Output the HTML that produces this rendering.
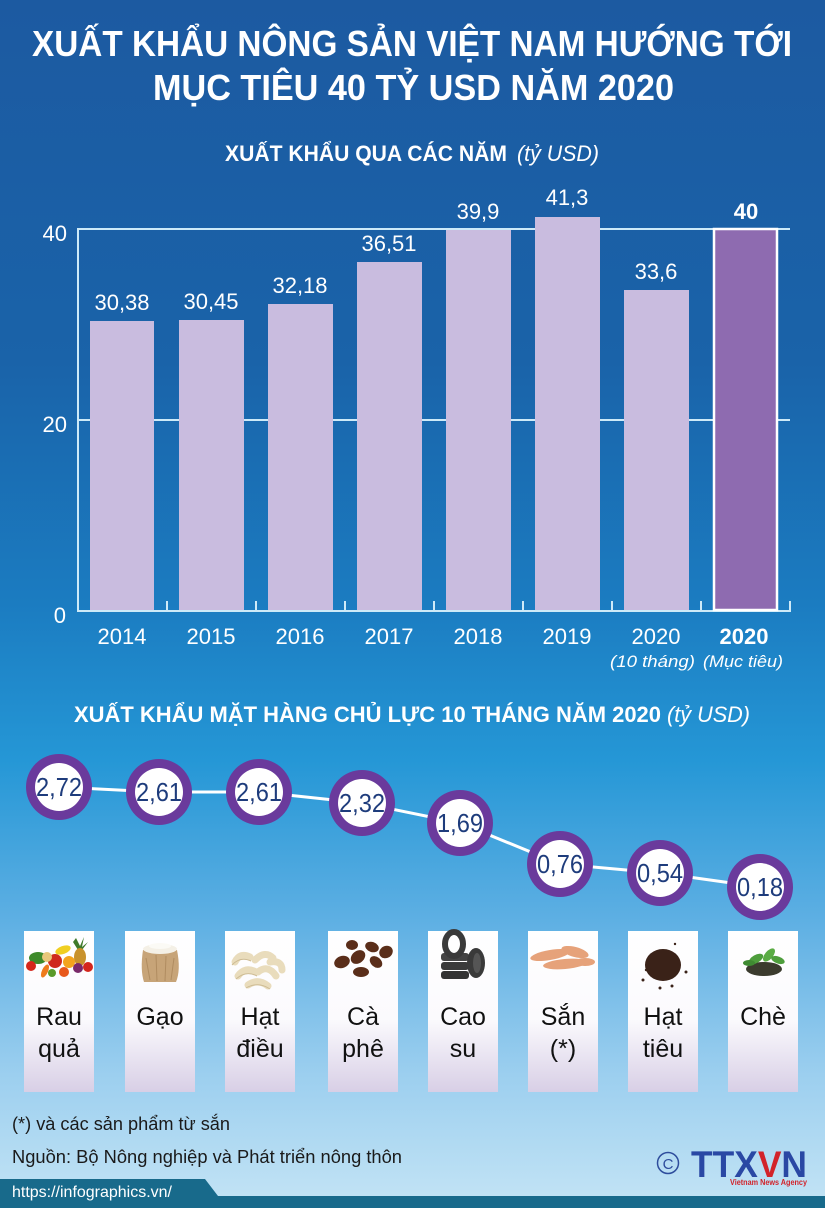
<!DOCTYPE html>
<html><head><meta charset="utf-8"><style>
html,body{margin:0;padding:0;width:825px;height:1208px;overflow:hidden}
svg{display:block}
text{font-family:"Liberation Sans","DejaVu Sans",sans-serif}
</style></head><body>
<svg width="825" height="1208" viewBox="0 0 825 1208" xmlns="http://www.w3.org/2000/svg">
<defs>
<linearGradient id="bg" x1="0" y1="0" x2="0" y2="1">
<stop offset="0" stop-color="#1c5aa1"/>
<stop offset="0.3" stop-color="#1a63a9"/>
<stop offset="0.5" stop-color="#1b7cc1"/>
<stop offset="0.63" stop-color="#2597d6"/>
<stop offset="0.76" stop-color="#5dafe3"/>
<stop offset="0.89" stop-color="#9ccfef"/>
<stop offset="1" stop-color="#c4e4f5"/>
</linearGradient>
<linearGradient id="card" x1="0" y1="0" x2="0" y2="1">
<stop offset="0" stop-color="#ffffff"/>
<stop offset="0.55" stop-color="#fbfafd"/>
<stop offset="1" stop-color="#d8cfe6"/>
</linearGradient>
</defs>
<rect x="0" y="0" width="825" height="1208" fill="url(#bg)"/>

<!-- Titles -->
<text x="32" y="56" font-size="36" font-weight="bold" fill="#fff" textLength="760" lengthAdjust="spacingAndGlyphs">XUẤT KHẨU NÔNG SẢN VIỆT NAM HƯỚNG TỚI</text>
<text x="153" y="100" font-size="36" font-weight="bold" fill="#fff" textLength="521" lengthAdjust="spacingAndGlyphs">MỤC TIÊU 40 TỶ USD NĂM 2020</text>
<text x="225" y="161" font-size="22" font-weight="bold" fill="#fff" textLength="282" lengthAdjust="spacingAndGlyphs">XUẤT KHẨU QUA CÁC NĂM</text>
<text x="517" y="161" font-size="22" font-style="italic" fill="#fff" textLength="82" lengthAdjust="spacingAndGlyphs">(tỷ USD)</text>

<!-- Chart gridlines -->
<g stroke="#cdeaf8" stroke-width="2" fill="none">
<line x1="78" y1="229" x2="790" y2="229"/>
<line x1="78" y1="420" x2="790" y2="420"/>
<line x1="78" y1="228" x2="78" y2="612"/>
<line x1="77" y1="611" x2="791" y2="611"/>
<line x1="167" y1="601" x2="167" y2="611"/>
<line x1="256" y1="601" x2="256" y2="611"/>
<line x1="345" y1="601" x2="345" y2="611"/>
<line x1="434" y1="601" x2="434" y2="611"/>
<line x1="523" y1="601" x2="523" y2="611"/>
<line x1="612" y1="601" x2="612" y2="611"/>
<line x1="701" y1="601" x2="701" y2="611"/>
<line x1="790" y1="601" x2="790" y2="611"/>
</g>
<!-- Bars -->
<g fill="#c9bcdf">
<rect x="90" y="321" width="64" height="289"/>
<rect x="179" y="320" width="65" height="290"/>
<rect x="268" y="304" width="65" height="306"/>
<rect x="357" y="262" width="65" height="348"/>
<rect x="446" y="230" width="65" height="380"/>
<rect x="535" y="217" width="65" height="393"/>
<rect x="624" y="290" width="65" height="320"/>
</g>
<rect x="714" y="229" width="63" height="381" fill="#8e6bb0" stroke="#fff" stroke-width="2.5"/>

<!-- Y labels -->
<g font-size="22" fill="#fff" text-anchor="end">
<text x="67" y="241">40</text>
<text x="67" y="432">20</text>
<text x="66" y="623">0</text>
</g>
<!-- Value labels -->
<g font-size="22" fill="#fff" text-anchor="middle">
<text x="122" y="310">30,38</text>
<text x="211" y="309">30,45</text>
<text x="300" y="293">32,18</text>
<text x="389" y="251">36,51</text>
<text x="478" y="219">39,9</text>
<text x="567" y="205">41,3</text>
<text x="656" y="279">33,6</text>
<text x="746" y="219" font-weight="bold">40</text>
</g>
<!-- Year labels -->
<g font-size="22" fill="#fff" text-anchor="middle">
<text x="122" y="644">2014</text>
<text x="211" y="644">2015</text>
<text x="300" y="644">2016</text>
<text x="389" y="644">2017</text>
<text x="478" y="644">2018</text>
<text x="567" y="644">2019</text>
<text x="656" y="644">2020</text>
<text x="744" y="644" font-weight="bold">2020</text>
</g>
<text x="610" y="667" font-size="17" font-style="italic" fill="#fff" textLength="85" lengthAdjust="spacingAndGlyphs">(10 tháng)</text>
<text x="703" y="667" font-size="17" font-style="italic" fill="#fff" textLength="80" lengthAdjust="spacingAndGlyphs">(Mục tiêu)</text>

<!-- Section 2 title -->
<text x="74" y="722" font-size="22" font-weight="bold" fill="#fff" textLength="587" lengthAdjust="spacingAndGlyphs">XUẤT KHẨU MẶT HÀNG CHỦ LỰC 10 THÁNG NĂM 2020</text>
<text x="667" y="722" font-size="22" font-style="italic" fill="#fff" textLength="83" lengthAdjust="spacingAndGlyphs">(tỷ USD)</text>

<!-- Connecting line -->
<polyline points="59,787 159,792 259,792 362,803 460,823 560,864 660,873 760,887" fill="none" stroke="#fff" stroke-width="3"/>

<!-- Circles -->
<g fill="#6a3a9c">
<circle cx="59" cy="787" r="33"/>
<circle cx="159" cy="792" r="33"/>
<circle cx="259" cy="792" r="33"/>
<circle cx="362" cy="803" r="33"/>
<circle cx="460" cy="823" r="33"/>
<circle cx="560" cy="864" r="33"/>
<circle cx="660" cy="873" r="33"/>
<circle cx="760" cy="887" r="33"/>
</g>
<g fill="#fff">
<circle cx="59" cy="787" r="24"/>
<circle cx="159" cy="792" r="24"/>
<circle cx="259" cy="792" r="24"/>
<circle cx="362" cy="803" r="24"/>
<circle cx="460" cy="823" r="24"/>
<circle cx="560" cy="864" r="24"/>
<circle cx="660" cy="873" r="24"/>
<circle cx="760" cy="887" r="24"/>
</g>
<g font-size="26" fill="#1e3c7c">
<text x="36" y="796" textLength="46" lengthAdjust="spacingAndGlyphs">2,72</text>
<text x="136" y="801" textLength="46" lengthAdjust="spacingAndGlyphs">2,61</text>
<text x="236" y="801" textLength="46" lengthAdjust="spacingAndGlyphs">2,61</text>
<text x="339" y="812" textLength="46" lengthAdjust="spacingAndGlyphs">2,32</text>
<text x="437" y="832" textLength="46" lengthAdjust="spacingAndGlyphs">1,69</text>
<text x="537" y="873" textLength="46" lengthAdjust="spacingAndGlyphs">0,76</text>
<text x="637" y="882" textLength="46" lengthAdjust="spacingAndGlyphs">0,54</text>
<text x="737" y="896" textLength="46" lengthAdjust="spacingAndGlyphs">0,18</text>
</g>

<!-- Cards -->
<g fill="url(#card)">
<rect x="24" y="931" width="70" height="161"/>
<rect x="125" y="931" width="70" height="161"/>
<rect x="225" y="931" width="70" height="161"/>
<rect x="328" y="931" width="70" height="161"/>
<rect x="428" y="931" width="70" height="161"/>
<rect x="528" y="931" width="70" height="161"/>
<rect x="628" y="931" width="70" height="161"/>
<rect x="728" y="931" width="70" height="161"/>
</g>

<!-- Icons -->
<g>
<polygon points="76,938 80,946 84,937 82,947 88,942 82,950 78,950 73,942" fill="#3e7a2a"/>
<ellipse cx="80" cy="957" rx="6" ry="9" fill="#c8922c"/>
<ellipse cx="38" cy="958" rx="9" ry="6" fill="#3d8a2a"/>
<ellipse cx="63" cy="950" rx="8" ry="4" fill="#f0cf22" transform="rotate(-20 63 950)"/>
<circle cx="55" cy="961" r="7" fill="#cf2a1d"/>
<circle cx="69" cy="962" r="6" fill="#f3a41e"/>
<circle cx="47" cy="957" r="5" fill="#e7c77a"/>
<circle cx="31" cy="966" r="5" fill="#d4261c"/>
<circle cx="88" cy="967" r="5" fill="#d4261c"/>
<ellipse cx="45" cy="971" rx="3" ry="7" fill="#ee7a1c" transform="rotate(25 45 971)"/>
<circle cx="78" cy="968" r="5" fill="#7a2a6a"/>
<circle cx="64" cy="972" r="5" fill="#e8581c"/>
<circle cx="52" cy="973" r="4" fill="#5a9a2a"/>
</g>
<g>
<path d="M143,950 Q140,970 144,982 L176,982 Q181,970 177,950 Z" fill="#c7a478"/>
<path d="M146,958 L150,980 M156,955 L157,981 M166,956 L165,981 M174,958 L171,980" stroke="#b08c60" stroke-width="1"/>
<ellipse cx="160" cy="949" rx="17" ry="5" fill="#f4f0e6"/>
<ellipse cx="160" cy="946" rx="11" ry="3" fill="#fbfaf5"/>
</g>
<g fill="none" stroke="#e9dcbc" stroke-width="7" stroke-linecap="round">
<path d="M235,962 Q240,952 250,957"/>
<path d="M255,960 Q265,950 273,958"/>
<path d="M270,962 Q282,960 282,970"/>
<path d="M238,976 Q245,966 256,972"/>
<path d="M258,972 Q268,964 276,976"/>
<path d="M248,985 Q258,978 268,986"/>
</g>
<g fill="none" stroke="#cdbb93" stroke-width="1">
<path d="M232,965 Q240,956 251,961"/>
<path d="M236,979 Q246,970 257,976"/>
<path d="M246,988 Q258,981 270,989"/>
</g>
<g fill="#5a2e1a">
<ellipse cx="342" cy="962" rx="8" ry="6" transform="rotate(-20 342 962)"/>
<ellipse cx="358" cy="957" rx="8" ry="6" transform="rotate(-40 358 957)"/>
<ellipse cx="372" cy="947" rx="7" ry="5" transform="rotate(20 372 947)"/>
<ellipse cx="386" cy="952" rx="7" ry="6" transform="rotate(-30 386 952)"/>
<ellipse cx="376" cy="962" rx="7" ry="5" transform="rotate(40 376 962)"/>
<ellipse cx="361" cy="972" rx="8" ry="5"/>
<ellipse cx="352" cy="945" rx="6" ry="5"/>
</g>
<g>
<rect x="441" y="962" width="28" height="8" rx="3" fill="#3a3a3a"/>
<rect x="441" y="971" width="28" height="8" rx="3" fill="#333"/>
<rect x="441" y="953" width="28" height="8" rx="3" fill="#444"/>
<ellipse cx="454" cy="944" rx="9" ry="12" fill="none" stroke="#3a3a3a" stroke-width="6"/>
<ellipse cx="476" cy="963" rx="9" ry="15" fill="#3a3a3a"/>
<ellipse cx="477" cy="963" rx="4" ry="10" fill="#555"/>
</g>
<g fill="#e6a27a">
<ellipse cx="550" cy="955" rx="20" ry="5" transform="rotate(-10 550 955)"/>
<ellipse cx="575" cy="952" rx="14" ry="5" transform="rotate(15 575 952)"/>
<ellipse cx="565" cy="964" rx="22" ry="5" transform="rotate(-5 565 964)"/>
<ellipse cx="585" cy="962" rx="10" ry="4"/>
</g>
<g fill="#3a2218">
<ellipse cx="663" cy="965" rx="18" ry="16"/>
<circle cx="643" cy="980" r="1.5"/><circle cx="686" cy="972" r="1.5"/>
<circle cx="660" cy="988" r="1.5"/><circle cx="672" cy="986" r="1.5"/>
<circle cx="675" cy="944" r="1.2"/><circle cx="646" cy="970" r="1.2"/>
</g>
<g>
<ellipse cx="764" cy="969" rx="18" ry="7" fill="#3b3b2e"/>
<ellipse cx="756" cy="959" rx="8" ry="4" fill="#4e9e3c" transform="rotate(-30 756 959)"/>
<ellipse cx="769" cy="955" rx="8" ry="4" fill="#5aac44" transform="rotate(-50 769 955)"/>
<ellipse cx="778" cy="960" rx="7" ry="3.5" fill="#4e9e3c" transform="rotate(20 778 960)"/>
<ellipse cx="749" cy="963" rx="6" ry="3" fill="#3f8a32"/>
</g>

<!-- Card labels -->
<g font-size="25" fill="#111" text-anchor="middle">
<text x="59" y="1025">Rau</text><text x="59" y="1057">quả</text>
<text x="160" y="1025">Gạo</text>
<text x="260" y="1025">Hạt</text><text x="260" y="1057">điều</text>
<text x="363" y="1025">Cà</text><text x="363" y="1057">phê</text>
<text x="463" y="1025">Cao</text><text x="463" y="1057">su</text>
<text x="563" y="1025">Sắn</text><text x="563" y="1057">(*)</text>
<text x="663" y="1025">Hạt</text><text x="663" y="1057">tiêu</text>
<text x="763" y="1025">Chè</text>
</g>

<!-- Footnotes -->
<text x="12" y="1130" font-size="18" fill="#1a1a1a" textLength="218" lengthAdjust="spacingAndGlyphs">(*) và các sản phẩm từ sắn</text>
<text x="12" y="1163" font-size="18" fill="#1a1a1a" textLength="390" lengthAdjust="spacingAndGlyphs">Nguồn: Bộ Nông nghiệp và Phát triển nông thôn</text>

<!-- Logo -->
<circle cx="668" cy="1163" r="10.5" fill="none" stroke="#2d4c9c" stroke-width="1.5"/>
<text x="668" y="1169" font-size="15" fill="#2d4c9c" text-anchor="middle">C</text>
<text x="691" y="1177" font-size="37" font-weight="bold" fill="#2a48a4" textLength="116" lengthAdjust="spacingAndGlyphs">TTX<tspan fill="#d2232a">V</tspan>N</text>
<text x="730" y="1185" font-size="8" font-weight="bold" fill="#d2232a" textLength="77" lengthAdjust="spacingAndGlyphs">Vietnam News Agency</text>

<!-- Bottom band -->
<polygon points="0,1179 205,1179 218,1196 825,1196 825,1208 0,1208" fill="#186a8b"/>
<text x="12" y="1197" font-size="16" fill="#fff" textLength="160" lengthAdjust="spacingAndGlyphs">https://infographics.vn/</text>
</svg>
</body></html>
